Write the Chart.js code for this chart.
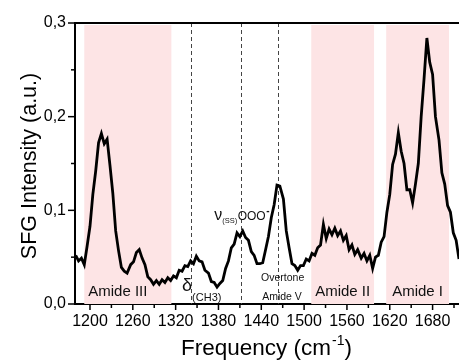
<!DOCTYPE html>
<html><head><meta charset="utf-8">
<script src="https://cdn.jsdelivr.net/npm/chart.js@4"></script>
<style>html,body{margin:0;padding:0;background:#fff;overflow:hidden}</style>
</head><body>
<canvas id="c" width="459" height="361"></canvas>
<script>
const frequency = [1180,1184,1188,1192,1196,1200,1204,1208,1212,1216,1220,1224,1228,1232,1236,1240,1244,1248,1252,1257,1261,1265,1269,1273,1277,1281,1285,1289,1293,1297,1301,1305,1309,1313,1317,1321,1325,1329,1333,1337,1341,1345,1349,1353,1357,1361,1366,1370,1374,1378,1382,1386,1390,1394,1398,1402,1406,1410,1414,1418,1422,1426,1430,1434,1438,1442,1446,1450,1454,1458,1462,1466,1471,1475,1479,1483,1487,1491,1495,1499,1503,1507,1511,1515,1519,1523,1527,1531,1535,1539,1543,1547,1551,1555,1559,1563,1567,1571,1575,1580,1584,1588,1592,1596,1600,1604,1608,1612,1616,1620,1624,1628,1632,1636,1640,1644,1648,1652,1656,1660,1664,1668,1672,1676,1680,1684,1689,1693,1697,1701,1705,1709,1713,1717];
const intensity = [0.052,0.046,0.049,0.042,0.062,0.083,0.117,0.142,0.172,0.182,0.171,0.176,0.148,0.118,0.078,0.057,0.039,0.035,0.033,0.042,0.045,0.055,0.058,0.049,0.042,0.029,0.026,0.021,0.025,0.021,0.026,0.023,0.028,0.025,0.030,0.028,0.036,0.035,0.041,0.040,0.046,0.043,0.051,0.046,0.045,0.036,0.033,0.024,0.023,0.018,0.022,0.025,0.038,0.046,0.060,0.064,0.076,0.072,0.078,0.071,0.068,0.056,0.052,0.043,0.043,0.044,0.058,0.072,0.092,0.106,0.127,0.126,0.112,0.078,0.060,0.043,0.041,0.036,0.041,0.041,0.048,0.046,0.054,0.052,0.060,0.063,0.085,0.070,0.080,0.074,0.081,0.073,0.078,0.068,0.073,0.058,0.063,0.053,0.058,0.049,0.054,0.046,0.052,0.038,0.050,0.052,0.066,0.072,0.098,0.117,0.149,0.160,0.183,0.163,0.150,0.122,0.122,0.108,0.128,0.150,0.200,0.240,0.284,0.258,0.245,0.200,0.175,0.140,0.128,0.105,0.098,0.076,0.068,0.048];
const xTickValues = [1200,1230,1260,1290,1320,1350,1380,1410,1440,1470,1500,1530,1560,1590,1620,1650,1680,1710];
const xTickLabels = ['1200','','1260','','1320','','1380','','1440','','1500','','1560','','1620','','1680',''];
const yTickValues = [0,0.05,0.1,0.15,0.2,0.25,0.3];
const yTickLabels = ['0,0','','0,1','','0,2','','0,3'];
const bandNames = ['Amide III','Amide II','Amide I'];
const bandStarts = [1192,1510,1615];
const bandEnds = [1314,1598,1703];
const markerLines = [1342,1411,1464];

const FONT = '"Liberation Sans", Arial, sans-serif';

const decor = {
  id: 'decor',
  beforeDatasetsDraw(chart) {
    const {ctx, chartArea: a, scales: {x, y}} = chart;
    ctx.save();
    ctx.fillStyle = 'rgb(253,228,229)';
    bandStarts.forEach((s, i) => {
      const x0 = x.getPixelForValue(s), x1 = x.getPixelForValue(bandEnds[i]);
      ctx.fillRect(x0, a.top + 2, x1 - x0, a.bottom - a.top - 2);
    });
    ctx.strokeStyle = '#444';
    ctx.lineWidth = 1;
    ctx.setLineDash([4, 3]);
    markerLines.forEach(v => {
      const px = Math.round(x.getPixelForValue(v)) + 0.5;
      ctx.beginPath(); ctx.moveTo(px, a.top); ctx.lineTo(px, a.bottom); ctx.stroke();
    });
    ctx.setLineDash([]);
    ctx.fillStyle = '#111';
    ctx.textAlign = 'center'; ctx.textBaseline = 'middle';
    ctx.font = '15px ' + FONT;
    const labelX = [1239, 1554, 1659];
    bandNames.forEach((n, i) => ctx.fillText(n, x.getPixelForValue(labelX[i]), y.getPixelForValue(0.0128)));
    ctx.font = '10.5px ' + FONT;
    ctx.fillText('Overtone', x.getPixelForValue(1470), y.getPixelForValue(0.028));
    ctx.fillText('Amide V', x.getPixelForValue(1469), y.getPixelForValue(0.0075));
    ctx.textAlign = 'left'; ctx.textBaseline = 'alphabetic';
    let cx = x.getPixelForValue(1329);
    ctx.font = '18px ' + FONT;
    ctx.fillText('δ', cx, y.getPixelForValue(0.0139));
    cx += ctx.measureText('δ').width;
    ctx.font = '11px ' + FONT;
    ctx.fillText('(CH3)', cx, y.getPixelForValue(0.0032));
    cx = x.getPixelForValue(1374);
    const base = y.getPixelForValue(0.0897);
    ctx.font = '16px ' + FONT;
    ctx.fillText('ν', cx, base);
    cx += ctx.measureText('ν').width;
    ctx.font = '7.5px ' + FONT;
    ctx.fillText('(SS)', cx, base + 3);
    cx += ctx.measureText('(SS)').width + 0.5;
    ctx.font = '12px ' + FONT;
    ctx.fillText('OOO', cx, base);
    cx += ctx.measureText('OOO').width + 0.5;
    ctx.font = 'bold 10px ' + FONT;
    ctx.fillText('-', cx, base - 6);
    ctx.restore();
  },
  afterDraw(chart) {
    const {ctx, chartArea: a, scales: {x, y}} = chart;
    ctx.save();
    ctx.strokeStyle = '#000';
    ctx.lineWidth = 2;
    ctx.beginPath(); ctx.moveTo(a.left - 1, a.top); ctx.lineTo(a.right, a.top); ctx.stroke();
    ctx.lineWidth = 1.5;
    xTickValues.forEach((v, i) => {
      const px = x.getPixelForValue(v);
      const len = xTickLabels[i] ? 6 : 4;
      ctx.beginPath(); ctx.moveTo(px, a.bottom); ctx.lineTo(px, a.bottom + len); ctx.stroke();
    });
    yTickValues.forEach((v, i) => {
      const py = y.getPixelForValue(v);
      const len = yTickLabels[i] ? 7 : 4;
      ctx.beginPath(); ctx.moveTo(a.left, py); ctx.lineTo(a.left - len, py); ctx.stroke();
    });
    ctx.fillStyle = '#000';
    ctx.textBaseline = 'alphabetic';
    ctx.textAlign = 'left';
    ctx.font = '22.5px ' + FONT;
    let tx = 181; const tb = 355;
    ctx.fillText('Frequency (cm', tx, tb);
    tx += ctx.measureText('Frequency (cm').width + 1;
    ctx.font = '14px ' + FONT;
    ctx.fillText('-1', tx, tb - 10);
    tx += ctx.measureText('-1').width;
    ctx.font = '22.5px ' + FONT;
    ctx.fillText(')', tx, tb);
    ctx.translate(36, 166);
    ctx.rotate(-Math.PI / 2);
    ctx.textAlign = 'center';
    ctx.font = '21.5px ' + FONT;
    ctx.fillText('SFG Intensity (a.u.)', 0, 0);
    ctx.restore();
  }
};

new Chart(document.getElementById('c'), {
  type: 'line',
  data: {
    datasets: [{
      data: frequency.map((f, i) => ({x: f, y: intensity[i]})),
      borderColor: '#000',
      borderWidth: 2.8,
      pointRadius: 0,
      tension: 0,
      fill: false
    }]
  },
  options: {
    responsive: false,
    animation: false,
    layout: {padding: {top: 23, right: 0, left: 0, bottom: 0}},
    plugins: {legend: {display: false}, tooltip: {enabled: false}},
    scales: {
      x: {
        type: 'linear', min: 1179, max: 1717,
        afterBuildTicks: s => { s.ticks = xTickValues.map(v => ({value: v})); },
        afterFit: s => { s.height = 57; s.paddingLeft = 0; s.paddingRight = 0; },
        ticks: {autoSkip: false, maxRotation: 0, padding: 8, color: '#000',
          font: {family: FONT, size: 16}, callback: (v, i) => xTickLabels[i]},
        grid: {display: false, drawTicks: false},
        border: {display: true, color: '#000', width: 2}
      },
      y: {
        type: 'linear', min: 0, max: 0.3,
        afterBuildTicks: s => { s.ticks = yTickValues.map(v => ({value: v})); },
        afterFit: s => { s.width = 75; s.paddingTop = 0; s.paddingBottom = 0; },
        ticks: {autoSkip: false, padding: 9, color: '#000',
          font: {family: FONT, size: 16}, callback: (v, i) => yTickLabels[i]},
        grid: {display: false, drawTicks: false},
        border: {display: true, color: '#000', width: 2}
      }
    }
  },
  plugins: [decor]
});
</script>
</body></html>
